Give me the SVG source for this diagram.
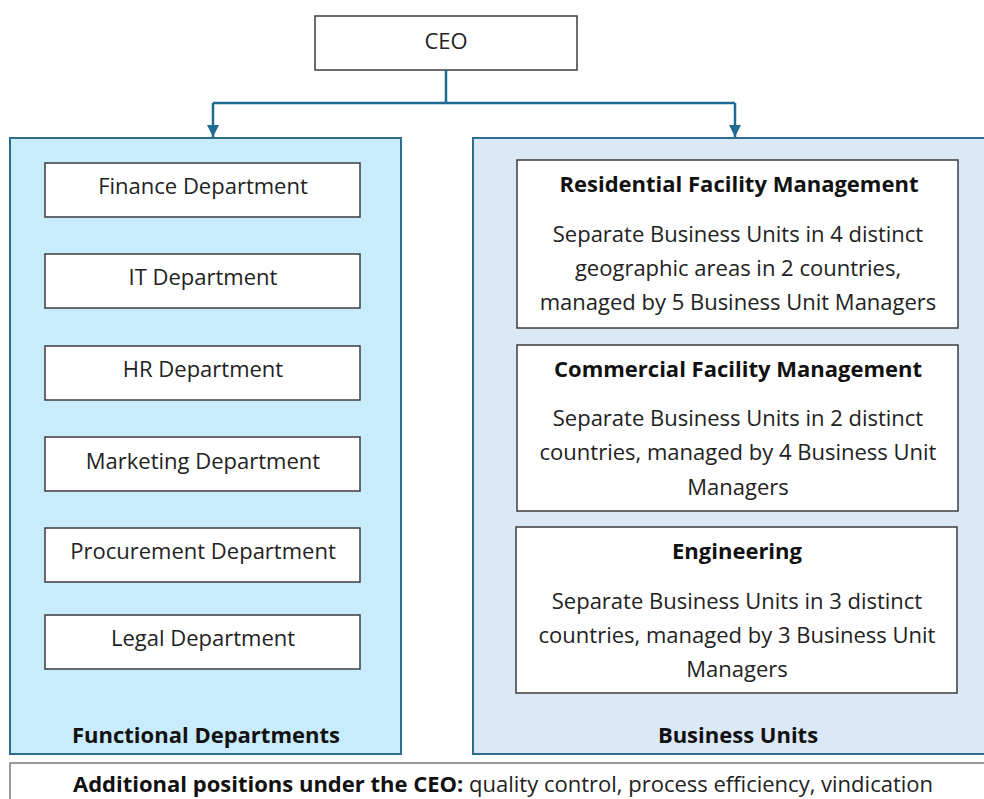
<svg xmlns="http://www.w3.org/2000/svg" width="984" height="799" viewBox="0 0 984 799">
  <defs>
    <marker id="arrow" viewBox="0 0 12 12" refX="12" refY="6" markerWidth="12" markerHeight="12" markerUnits="userSpaceOnUse" orient="auto">
      <path d="M0,0 L12,6 L0,12 Z" fill="#1f6a90"/>
    </marker>
    <style>
      text { font-family: "Open Sans", "Noto Sans", "Liberation Sans", sans-serif; font-size: 22px; fill: #222; text-anchor: middle; }
      .b { font-weight: bold; fill: #111; }
      .box { fill: #ffffff; stroke: #3c3c3c; stroke-width: 1.5; }
      .panel { stroke: #2e6d8e; stroke-width: 2; }
      .conn { fill: none; stroke: #1f6a90; stroke-width: 2.5; }
    </style>
  </defs>
  <rect width="984" height="799" fill="#ffffff"/>

  <!-- top of the chart -->
  <g id="ceo">
    <rect class="box" x="315" y="16" width="262" height="54"/>
    <text x="446" y="49">CEO</text>
  </g>

  <!-- links from the CEO down to both groups -->
  <g id="connectors">
    <path class="conn" d="M446,70 V103 M213,103 H735"/>
    <path class="conn" d="M213,103 V137" marker-end="url(#arrow)"/>
    <path class="conn" d="M735,103 V137" marker-end="url(#arrow)"/>
  </g>

  <!-- left group: support functions -->
  <g id="functional-departments">
    <rect class="panel" x="10" y="138" width="391" height="616" fill="#c8ecfb"/>
    <text class="b" x="206" y="743">Functional Departments</text>
  </g>
  <g id="finance">
    <rect class="box" x="45" y="163" width="315" height="54"/>
    <text x="203" y="194">Finance Department</text>
  </g>
  <g id="it">
    <rect class="box" x="45" y="254" width="315" height="54"/>
    <text x="203" y="285">IT Department</text>
  </g>
  <g id="hr">
    <rect class="box" x="45" y="346" width="315" height="54"/>
    <text x="203" y="377">HR Department</text>
  </g>
  <g id="marketing">
    <rect class="box" x="45" y="437" width="315" height="54"/>
    <text x="203" y="469">Marketing Department</text>
  </g>
  <g id="procurement">
    <rect class="box" x="45" y="528" width="315" height="54"/>
    <text x="203" y="559">Procurement Department</text>
  </g>
  <g id="legal">
    <rect class="box" x="45" y="615" width="315" height="54"/>
    <text x="203" y="646">Legal Department</text>
  </g>

  <!-- right group: operating units -->
  <g id="business-units">
    <rect class="panel" x="473" y="138" width="520" height="616" fill="#dbe8f5"/>
    <text class="b" x="738" y="743">Business Units</text>
  </g>
  <g id="residential">
    <rect class="box" x="517" y="160" width="441" height="168"/>
    <text class="b" x="739" y="192">Residential Facility Management</text>
    <text x="738" y="242">Separate Business Units in 4 distinct</text>
    <text x="738" y="276">geographic areas in 2 countries,</text>
    <text x="738" y="310">managed by 5 Business Unit Managers</text>
  </g>
  <g id="commercial">
    <rect class="box" x="517" y="345" width="441" height="166"/>
    <text class="b" x="738" y="377">Commercial Facility Management</text>
    <text x="738" y="426">Separate Business Units in 2 distinct</text>
    <text x="738" y="460">countries, managed by 4 Business Unit</text>
    <text x="738" y="495">Managers</text>
  </g>
  <g id="engineering">
    <rect class="box" x="516" y="527" width="441" height="166"/>
    <text class="b" x="737" y="559">Engineering</text>
    <text x="737" y="609">Separate Business Units in 3 distinct</text>
    <text x="737" y="643">countries, managed by 3 Business Unit</text>
    <text x="737" y="677">Managers</text>
  </g>

  <!-- footnote strip -->
  <g id="additional-positions">
    <rect x="10" y="763" width="990" height="50" fill="#ffffff" stroke="#7a7a7a" stroke-width="1.5"/>
    <text x="503" y="792"><tspan class="b">Additional positions under the CEO:</tspan> quality control, process efficiency, vindication</text>
  </g>
</svg>
